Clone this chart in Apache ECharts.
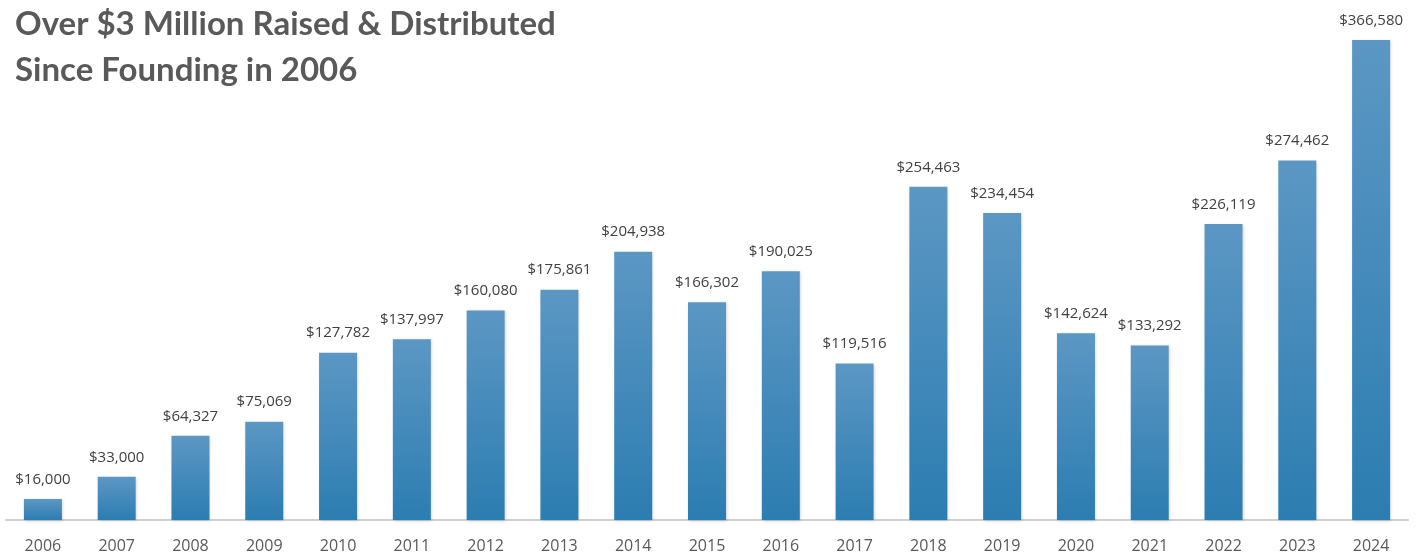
<!DOCTYPE html>
<html><head><meta charset="utf-8">
<script src="https://cdn.jsdelivr.net/npm/echarts@6/dist/echarts.min.js"></script>
<style>html,body{margin:0;padding:0;background:#fff}#c{width:1426px;height:555px}</style>
</head><body><div id="c"></div>
<script>
const years = ['2006','2007','2008','2009','2010','2011','2012','2013','2014','2015','2016','2017','2018','2019','2020','2021','2022','2023','2024'];
const amounts = [16000,33000,64327,75069,127782,137997,160080,175861,204938,166302,190025,119516,254463,234454,142624,133292,226119,274462,366580];
const titleLines = ['Over $3 Million Raised & Distributed','Since Founding in 2006'];

const chart = echarts.init(document.getElementById('c'));
chart.setOption({
  animation:false,
  title:{text:titleLines.join('\n'),left:10,top:-4,
    textStyle:{fontFamily:'Lato',fontWeight:'bold',fontSize:33,color:'#595959',lineHeight:46}},
  grid:{left:6,right:18,top:40,bottom:35},
  xAxis:{type:'category',data:years,
    axisLine:{lineStyle:{color:'#d0d0d0',width:2}},axisTick:{show:false},
    axisLabel:{color:'#595959',fontSize:16,fontFamily:'Open Sans',margin:18}},
  yAxis:{type:'value',min:0,max:'dataMax',show:false,splitLine:{show:false}},
  series:[{type:'bar',data:amounts,barWidth:38,
    itemStyle:{color:new echarts.graphic.LinearGradient(0,0,0,1,[{offset:0,color:'#5c97c4'},{offset:1,color:'#2c7db1'}]),
      shadowColor:'rgba(0,0,0,0.18)',shadowBlur:3,shadowOffsetX:1,shadowOffsetY:1},
    label:{show:true,position:'top',distance:12,color:'#404040',fontSize:15,fontFamily:'Open Sans',
      formatter:p=>'$'+p.value.toLocaleString('en-US')}}]
});
</script></body></html>
